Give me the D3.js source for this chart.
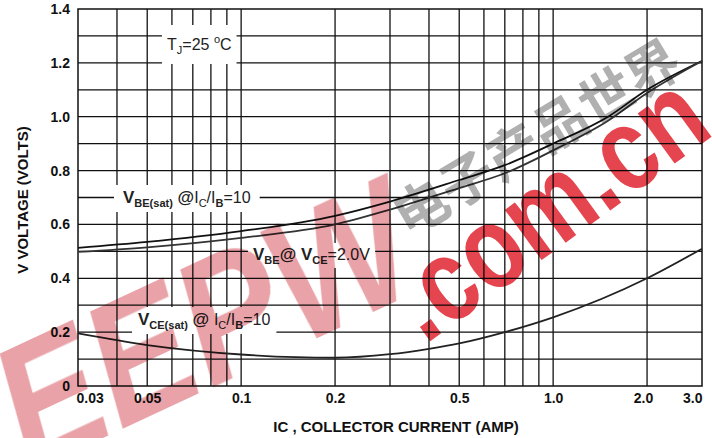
<!DOCTYPE html>
<html>
<head>
<meta charset="utf-8">
<script src="https://cdn.jsdelivr.net/npm/d3@7/dist/d3.min.js"></script>
<style>
  body { margin: 0; background: #fff; }
  svg { display: block; font-family: "Liberation Sans", Arial, sans-serif; }
</style>
</head>
<body>
<script>
// data
const icPoints = [0.03, 0.05, 0.1, 0.2, 0.3, 0.5, 0.7, 1.0, 1.5, 2.0, 3.0]
const vbeSat = [0.513, 0.535, 0.575, 0.632, 0.685, 0.765, 0.82, 0.90, 1.0, 1.10, 1.207]
const vbeOn = [0.498, 0.515, 0.55, 0.60, 0.655, 0.735, 0.79, 0.875, 0.985, 1.088, 1.207]
const icSatPoints = [0.03, 0.05, 0.1, 0.15, 0.2, 0.3, 0.4, 0.5, 0.7, 1.0, 2.0, 3.0]
const vceSat = [0.195, 0.152, 0.117, 0.107, 0.105, 0.118, 0.138, 0.158, 0.20, 0.255, 0.40, 0.51]

// axes
const xTickValues = [0.03, 0.05, 0.1, 0.2, 0.5, 1.0, 2.0, 3.0]
const xTickLabels = ['0.03', '0.05', '0.1', '0.2', '0.5', '1.0', '2.0', '3.0']
const xGridValues = [0.04, 0.05, 0.06, 0.07, 0.08, 0.09, 0.1, 0.2, 0.3, 0.4, 0.5, 0.6, 0.7, 0.8, 0.9, 1.0, 2.0]
const yTickValues = [0, 0.2, 0.4, 0.6, 0.8, 1.0, 1.2, 1.4]
const yTickLabels = ['0', '0.2', '0.4', '0.6', '0.8', '1.0', '1.2', '1.4']
const yGridValues = [0.1, 0.2, 0.3, 0.4, 0.5, 0.6, 0.7, 0.8, 0.9, 1.0, 1.1, 1.2, 1.3]

const W = 712, H = 438
const svg = d3.select('body').append('svg').attr('width', W).attr('height', H)

const x = d3.scaleLog().domain([0.03, 3]).range([78, 702])
const y = d3.scaleLinear().domain([0, 1.4]).range([386, 9])

// grid
const grid = svg.append('g').attr('stroke', '#111').attr('stroke-width', 1.3)
grid.selectAll('line.v').data(xGridValues).enter().append('line')
    .attr('x1', d => x(d)).attr('x2', d => x(d)).attr('y1', y(1.4)).attr('y2', y(0))
grid.selectAll('line.h').data(yGridValues).enter().append('line')
    .attr('x1', x(0.03)).attr('x2', x(3)).attr('y1', d => y(d)).attr('y2', d => y(d))
svg.append('rect').attr('x', x(0.03)).attr('y', y(1.4))
    .attr('width', x(3) - x(0.03)).attr('height', y(0) - y(1.4))
    .attr('fill', 'none').attr('stroke', '#111').attr('stroke-width', 1.5)

// tick labels
const yAxis = svg.append('g').attr('transform', `translate(${x(0.03)},0)`)
    .call(d3.axisLeft(y).tickValues(yTickValues).tickSize(0).tickPadding(8)
        .tickFormat((d, i) => yTickLabels[i]))
const xAxis = svg.append('g').attr('transform', `translate(0,${y(0)})`)
    .call(d3.axisBottom(x).tickValues(xTickValues).tickSize(0).tickPadding(7)
        .tickFormat((d, i) => xTickLabels[i]))
;[yAxis, xAxis].forEach(a => {
    a.select('.domain').remove()
    a.selectAll('text').attr('font-size', 14).attr('font-weight', 'bold').attr('fill', '#111')
        .attr('font-family', '"Liberation Sans", Arial, sans-serif')
})
xAxis.selectAll('text')
    .attr('text-anchor', (d, i) => i === 0 ? 'start' : i === xTickValues.length - 1 ? 'end' : 'middle')
    .attr('dx', (d, i) => i === 0 ? -2 : i === 6 ? -4 : 0)

// axis titles
svg.append('text').attr('x', 396).attr('y', 432).attr('text-anchor', 'middle')
    .attr('font-size', 15).attr('font-weight', 'bold').attr('fill', '#111')
    .text('IC , COLLECTOR CURRENT (AMP)')
svg.append('text').attr('transform', 'translate(28,200) rotate(-90)').attr('text-anchor', 'middle')
    .attr('font-size', 15).attr('font-weight', 'bold').attr('fill', '#111')
    .text('V VOLTAGE (VOLTS)')

// labels with sub/superscripts, white box behind
function label(px, py, parts, padX, padY) {
    const g = svg.append('g')
    const bg = g.append('rect').attr('fill', '#fff')
    const t = g.append('text').attr('x', px).attr('y', py).attr('fill', '#222').attr('font-weight', 'bold')
    parts.forEach(p => {
        const s = t.append('tspan').text(p.t).attr('font-size', p.sub || p.sup ? 11 : (p.size || 16))
        if (p.sub) s.attr('dy', 4)
        else if (p.sup) s.attr('dy', -7)
        if (p.back) s.attr('dy', p.back)
        if (p.w) s.attr('font-weight', p.w)
    })
    const b = t.node().getBBox()
    bg.attr('x', b.x - padX).attr('y', b.y - padY).attr('width', b.width + 2 * padX).attr('height', b.height + 2 * padY)
    return g
}

label(167, 50, [{t: 'T', w: 'normal'}, {t: 'J', sub: true, w: 'normal'}, {t: '=25 ', back: -4, w: 'normal'},
    {t: 'o', sup: true, w: 'normal'}, {t: 'C', back: 7, w: 'normal'}], 5, 8)
label(123, 203, [{t: 'V', size: 17}, {t: 'BE(sat)', sub: true}, {t: '  @', back: -4, size: 17},
    {t: 'I', w: 'normal'}, {t: 'C', sub: true, w: 'normal'}, {t: '/I', back: -4, w: 'normal'},
    {t: 'B', sub: true}, {t: '=10', back: -4, w: 'normal'}], 9, 3)
label(253, 260, [{t: 'V', size: 17}, {t: 'BE', sub: true}, {t: '@ V', back: -4, size: 17},
    {t: 'CE', sub: true}, {t: '=2.0V', back: -4, w: 'normal'}], 5, 2)
label(138, 325, [{t: 'V', size: 17}, {t: 'CE(sat)', sub: true}, {t: ' @ ', back: -4, size: 17},
    {t: 'I', w: 'normal'}, {t: 'C', sub: true, w: 'normal'}, {t: '/I', back: -4, w: 'normal'},
    {t: 'B', sub: true}, {t: '=10', back: -4, w: 'normal'}], 6, 3)

// curves
const line = d3.line().x(d => x(d[0])).y(d => y(d[1])).curve(d3.curveMonotoneX)
const curves = [
    {ic: icPoints, v: vbeSat, color: '#111'},
    {ic: icPoints, v: vbeOn, color: '#333'},
    {ic: icSatPoints, v: vceSat, color: '#222'}
]
svg.selectAll('path.curve').data(curves).enter().append('path')
    .attr('d', c => line(d3.zip(c.ic, c.v)))
    .attr('fill', 'none').attr('stroke', c => c.color).attr('stroke-width', 1.8)

// watermark
const wm = svg.append('g').style('mix-blend-mode', 'multiply').attr('pointer-events', 'none')
wm.append('text').attr('transform', 'translate(30,472) rotate(-25)')
    .attr('font-size', 175).attr('font-weight', 'bold').attr('font-style', 'italic')
    .attr('textLength', 440).attr('lengthAdjust', 'spacingAndGlyphs')
    .attr('fill', '#e9a2a7').text('EEPW')
wm.append('text').attr('transform', 'translate(425,345) rotate(-36)')
    .attr('font-size', 118).attr('font-weight', 'bold')
    .attr('textLength', 360).attr('lengthAdjust', 'spacingAndGlyphs')
    .attr('fill', '#e5454e').text('.com.cn')
wm.append('text').attr('transform', 'translate(408,238) rotate(-31)')
    .attr('font-size', 54).attr('font-family', '"Noto Sans CJK SC", sans-serif').attr('font-weight', 'bold')
    .attr('fill', '#b0b0b0').text('电子产品世界')
</script>
</body>
</html>
